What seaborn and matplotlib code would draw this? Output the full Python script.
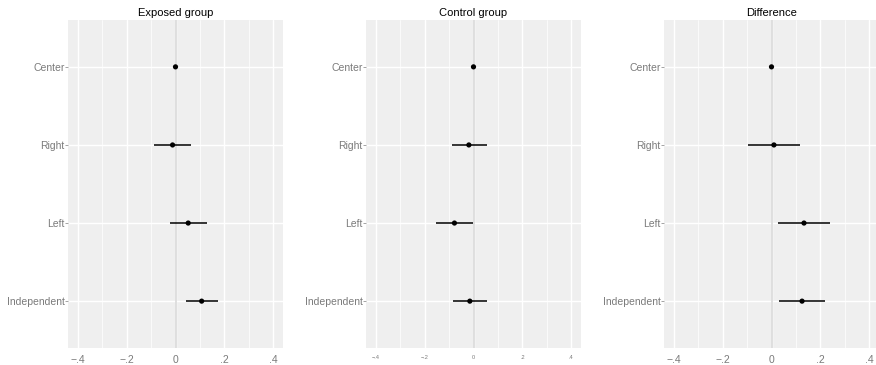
import numpy as np
import pandas as pd
import matplotlib
matplotlib.use("Agg")
import matplotlib.pyplot as plt
import seaborn as sns

# ---- data ----
categories = ["Center", "Right", "Left", "Independent"]
panels = ["Exposed group", "Control group", "Difference"]

exposed_est = [0.0, -0.012, 0.052, 0.107]
exposed_lo = [0.0, -0.089, -0.024, 0.042]
exposed_hi = [0.0, 0.065, 0.129, 0.174]

control_est = [0.0, -0.019, -0.078, -0.015]
control_lo = [0.0, -0.090, -0.152, -0.084]
control_hi = [0.0, 0.056, -0.004, 0.056]

diff_est = [0.0, 0.010, 0.133, 0.125]
diff_lo = [0.0, -0.097, 0.027, 0.030]
diff_hi = [0.0, 0.115, 0.241, 0.220]

x_ticks = [-0.4, -0.2, 0.0, 0.2, 0.4]
x_ticklabels = ["\u2212.4", "\u2212.2", "0", ".2", ".4"]

rows = []
for p, est, lo, hi in zip(panels,
                          [exposed_est, control_est, diff_est],
                          [exposed_lo, control_lo, diff_lo],
                          [exposed_hi, control_hi, diff_hi]):
    for c, e, l, h in zip(categories, est, lo, hi):
        rows.append(dict(panel=p, cat=c, est=e, lo=l, hi=h))
df = pd.DataFrame(rows)

sns.set_theme(style="white")
plt.rcParams["font.family"] = ["Liberation Sans", "DejaVu Sans"]

W, H = 876, 365
fig = plt.figure(figsize=(W / 100, H / 100), dpi=100)

lefts = [68, 366, 664]
top, bottom = 20, 348
pw = 215
tick_sizes = [7.5, 4.0, 7.5]

for p, left, ts in zip(panels, lefts, tick_sizes):
    ax = fig.add_axes([left / W, (H - bottom) / H, pw / W, (bottom - top) / H])
    sub = df[df["panel"] == p]
    ax.set_facecolor("#EFEFEF")
    for s in ax.spines.values():
        s.set_visible(False)

    sns.scatterplot(data=sub, x="est", y="cat", ax=ax, color="black",
                    s=14, edgecolor="none", zorder=5, legend=False)
    ax.hlines(y=sub["cat"], xmin=sub["lo"], xmax=sub["hi"], color="black",
              linewidth=1.1, zorder=4)

    ax.set_xlim(-0.44, 0.44)
    ax.set_ylim(len(categories) - 0.4, -0.6)
    ax.set_xticks(x_ticks)
    ax.set_xticklabels(x_ticklabels)
    ax.set_xticks([-0.3, -0.1, 0.1, 0.3], minor=True)

    ax.grid(True, which="major", color="white", linewidth=1.0, zorder=0)
    ax.grid(True, which="minor", axis="x", color="white", linewidth=0.5, zorder=0)
    ax.set_axisbelow(True)
    ax.axvline(0, color="#DCDCDC", linewidth=1.3, zorder=1)

    ax.tick_params(axis="y", which="major", length=2, width=0.5, color="#7f7f7f",
                   pad=0.5, labelsize=7.5, labelcolor="#7a7a7a", left=True)
    ax.tick_params(axis="x", which="both", length=0, pad=5, labelsize=ts,
                   labelcolor="#7a7a7a")
    ax.set_xlabel("")
    ax.set_ylabel("")
    ax.set_title(p, fontsize=8, color="black", pad=3)

fig.savefig("out.png", dpi=100)
